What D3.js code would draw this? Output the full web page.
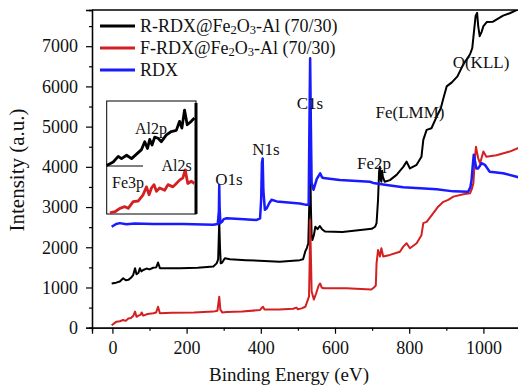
<!DOCTYPE html>
<html>
<head>
<meta charset="utf-8">
<script src="https://cdn.jsdelivr.net/npm/d3@7"></script>
<style>
  body { margin: 0; background: #fff; }
  svg { display: block; font-family: "Liberation Serif", "Times New Roman", serif; }
</style>
</head>
<body>
<svg id="chart" width="518" height="388"></svg>
<script>
// R-RDX@Fe2O3-Al (black)
const rEnergy = [-2, 10, 20, 29, 36, 43, 50, 56, 61, 65, 70, 74, 78, 83, 92, 100, 110, 118, 123, 128, 140, 182, 230, 272, 281, 285, 288, 290, 292, 296, 303, 317, 360, 451, 505, 514, 520, 524, 528, 531, 533, 535, 537, 539, 543, 547, 553, 559, 565, 573, 620, 699, 708, 712, 716, 719, 721, 723, 725, 727, 729, 734, 748, 766, 784, 793, 802, 820, 833, 838, 847, 860, 874, 885, 892, 901, 915, 930, 946, 964, 970, 975, 979, 983, 986, 990, 995, 1000, 1009, 1026, 1053, 1071, 1095];
const rIntensity = [1100, 1120, 1150, 1230, 1180, 1190, 1240, 1310, 1480, 1330, 1360, 1480, 1400, 1435, 1470, 1450, 1490, 1500, 1620, 1480, 1480, 1480, 1490, 1520, 1600, 1700, 2640, 2000, 1600, 1620, 1725, 1700, 1680, 1640, 1680, 1700, 1900, 1980, 2100, 3200, 4500, 3000, 2300, 2180, 2300, 2510, 2450, 2530, 2450, 2390, 2380, 2460, 2510, 2600, 3180, 3900, 4000, 3700, 3630, 3900, 3750, 3630, 3670, 3800, 4000, 4130, 3960, 4050, 4250, 4670, 4920, 4960, 5250, 5450, 5700, 6000, 6100, 6250, 6550, 6800, 6950, 7400, 7750, 7830, 7500, 7250, 7350, 7500, 7600, 7610, 7760, 7820, 7920];

// F-RDX@Fe2O3-Al (red)
const fEnergy = [-2, 11, 20, 29, 36, 43, 50, 56, 61, 65, 70, 76, 79, 83, 95, 110, 118, 123, 128, 160, 220, 272, 283, 288, 291, 296, 308, 350, 398, 403, 406, 410, 450, 487, 496, 500, 510, 520, 527, 530, 532, 533, 535, 537, 543, 549, 556, 560, 564, 569, 630, 698, 705, 710, 712, 716, 719, 721, 725, 730, 748, 775, 784, 793, 802, 820, 833, 838, 847, 865, 878, 892, 905, 919, 946, 964, 969, 973, 977, 980, 983, 986, 991, 996, 1000, 1008, 1035, 1071, 1095];
const fIntensity = [60, 150, 160, 190, 170, 230, 240, 290, 400, 270, 300, 320, 380, 300, 340, 360, 380, 520, 360, 370, 380, 400, 420, 770, 450, 380, 390, 400, 440, 500, 520, 450, 450, 470, 500, 460, 480, 520, 700, 780, 1800, 2680, 1800, 900, 700, 850, 1050, 1100, 1000, 980, 980, 950, 1000, 1050, 1600, 1930, 1850, 1770, 1975, 1770, 1810, 1890, 2015, 2100, 1975, 2100, 2300, 2600, 2630, 2850, 3010, 3130, 3180, 3260, 3320, 3340, 3450, 3590, 4200, 4500, 4350, 4210, 4090, 4250, 4380, 4250, 4290, 4380, 4470];

// RDX (blue)
const dEnergy = [-2, 10, 20, 38, 60, 110, 191, 272, 284, 287, 288, 289, 291, 296, 300, 308, 344, 389, 398, 401, 403, 405, 407, 411, 416, 423, 429, 443, 505, 520, 529, 531, 533, 535, 537, 542, 551, 560, 565, 569, 613, 694, 703, 739, 784, 829, 874, 919, 959, 965, 968, 971, 974, 977, 981, 986, 995, 1004, 1017, 1053, 1095];
const dIntensity = [2510, 2580, 2600, 2570, 2590, 2580, 2580, 2560, 2580, 2900, 3550, 3000, 2600, 2640, 2700, 2720, 2700, 2680, 2720, 3200, 4100, 4210, 3400, 2930, 2970, 3100, 3180, 3140, 3090, 3060, 3060, 5000, 6700, 5000, 3600, 3430, 3700, 3840, 3740, 3720, 3670, 3630, 3600, 3550, 3490, 3470, 3440, 3390, 3380, 3500, 3670, 4000, 4300, 4150, 3960, 3960, 4090, 4050, 3880, 3840, 3740];

// inset, low energy region (relative intensity)
const insetREnergy = [0, 11, 19.5, 25, 33.6, 42, 50.4, 58.8, 64.3, 68.9, 72.7, 76.6, 81.1, 86.7, 92.4, 100.8, 109.2, 117.6, 123.1, 127, 131.5, 136, 142.8, 148.3];
const insetRValue = [43, 46, 51, 49, 52, 49, 53, 57, 64, 58, 66, 61, 68, 67, 64, 70, 73, 74, 82, 76, 92, 79, 82, 85];
const insetFEnergy = [5.5, 14, 22.3, 30.7, 36.3, 44.7, 53.1, 61.5, 67.2, 71.6, 75.6, 80, 84, 89.5, 97.9, 103.5, 111.9, 117.6, 123.1, 128.7, 132.6, 137, 142.8, 148.3];
const insetFValue = [1, 2, 5, 6.5, 5, 11, 11.5, 17, 24, 17, 23, 26, 20, 23, 21, 26, 24, 27, 30, 32, 39, 27, 29, 27];

const legendLabels = ["R-RDX@Fe|2|O|3|-Al (70/30)", "F-RDX@Fe|2|O|3|-Al (70/30)", "RDX"];
const colors = ["#000000", "#d42020", "#1a1aff"];

const peakLabels = [
  { t: "O1s", x: 229, y: 179 },
  { t: "N1s", x: 266, y: 149 },
  { t: "C1s", x: 310, y: 103 },
  { t: "Fe2p", x: 374, y: 163 },
  { t: "Fe(LMM)", x: 410, y: 112 },
  { t: "O(KLL)", x: 481, y: 62 }
];

const svg = d3.select("#chart");
const W = 518, H = 388;
const mLeft = 92, mTop = 10, mBottom = 327.7;

const x = d3.scaleLinear().domain([-55, 1100]).range([mLeft, 520.5]);
const y = d3.scaleLinear().domain([0, 7900]).range([mBottom, mTop]);

svg.append("clipPath").attr("id", "plotclip")
  .append("rect").attr("x", mLeft).attr("y", mTop).attr("width", W - mLeft).attr("height", mBottom - mTop);

// axes
const fmt = d3.format("d");
svg.append("g").attr("transform", `translate(${mLeft},0)`)
  .call(d3.axisLeft(y).tickValues(d3.range(0, 7001, 1000)).tickSize(6).tickPadding(8).tickFormat(fmt));
svg.append("g").attr("transform", `translate(${mLeft},0)`)
  .call(d3.axisLeft(y).tickValues(d3.range(500, 7900, 1000)).tickSize(3).tickFormat(""));
svg.append("g").attr("transform", `translate(0,${mBottom})`)
  .call(d3.axisBottom(x).tickValues(d3.range(0, 1001, 200)).tickSize(6).tickPadding(8).tickFormat(fmt));
svg.append("g").attr("transform", `translate(0,${mBottom})`)
  .call(d3.axisBottom(x).tickValues(d3.range(100, 1100, 200)).tickSize(3).tickFormat(""));

svg.selectAll(".domain").attr("stroke", "#000").attr("stroke-width", 1.3);
svg.selectAll(".tick line").attr("stroke", "#000").attr("stroke-width", 1.2);
svg.selectAll(".tick text").attr("fill", "#111").style("font-size", "18px")
  .style("font-family", "'Liberation Serif', 'Times New Roman', serif");

// top frame
svg.append("line").attr("x1", mLeft).attr("x2", W).attr("y1", mTop).attr("y2", mTop)
  .attr("stroke", "#000").attr("stroke-width", 1.3);

// axis titles
svg.append("text").attr("x", 289).attr("y", 381).attr("text-anchor", "middle")
  .style("font-size", "19px").attr("fill", "#111").text("Binding Energy (eV)");
svg.append("text").attr("transform", "translate(24,170) rotate(-90)").attr("text-anchor", "middle")
  .style("font-size", "21px").attr("fill", "#111").text("Intensity (a.u.)");

// spectra
const series = [
  { e: rEnergy, v: rIntensity, w: 2 },
  { e: fEnergy, v: fIntensity, w: 2 },
  { e: dEnergy, v: dIntensity, w: 2.5 }
];
const line = d3.line().x(d => x(d[0])).y(d => y(d[1]));
const plot = svg.append("g").attr("clip-path", "url(#plotclip)");
series.forEach((s, i) => {
  plot.append("path")
    .datum(d3.zip(s.e, s.v))
    .attr("d", line)
    .attr("fill", "none")
    .attr("stroke", colors[i])
    .attr("stroke-width", s.w)
    .attr("stroke-linejoin", "round");
});

// peak labels
svg.selectAll(".peak").data(peakLabels).enter().append("text")
  .attr("class", "peak")
  .attr("x", d => d.x).attr("y", d => d.y)
  .attr("dy", "0.35em")
  .attr("text-anchor", "middle")
  .style("font-size", "17px").attr("fill", "#111")
  .text(d => d.t);

// legend
const lg = svg.append("g");
legendLabels.forEach((lab, i) => {
  const ly = 26 + i * 22;
  lg.append("line").attr("x1", 100).attr("x2", 135).attr("y1", ly).attr("y2", ly)
    .attr("stroke", colors[i]).attr("stroke-width", 3);
  const t = lg.append("text").attr("x", 140).attr("y", ly + 6).style("font-size", "18px").attr("fill", "#111");
  lab.split("|").forEach((part, k) => {
    if (k % 2 === 1) {
      t.append("tspan").attr("dy", 2).style("font-size", "12.5px").text(part);
    } else {
      t.append("tspan").attr("dy", k === 0 ? 0 : -2).text(part);
    }
  });
});

// inset
const ix = d3.scaleLinear().domain([0, 150]).range([106.7, 195.5]);
const iy = d3.scaleLinear().domain([0, 100]).range([214, 101]);
const inset = svg.append("g");
inset.append("rect").attr("x", 106.7).attr("y", 101).attr("width", 89.3).attr("height", 113)
  .attr("fill", "#fff").attr("stroke", "#000").attr("stroke-width", 1);
inset.append("line").attr("x1", 196).attr("x2", 196).attr("y1", 103).attr("y2", 214)
  .attr("stroke", "#000").attr("stroke-width", 3);
inset.append("line").attr("x1", 106.7).attr("x2", 143).attr("y1", 166).attr("y2", 166)
  .attr("stroke", "#000").attr("stroke-width", 1);
const iline = d3.line().x(d => ix(d[0])).y(d => iy(d[1]));
inset.append("path").datum(d3.zip(insetREnergy, insetRValue)).attr("d", iline)
  .attr("fill", "none").attr("stroke", colors[0]).attr("stroke-width", 2.8).attr("stroke-linejoin", "round");
inset.append("path").datum(d3.zip(insetFEnergy, insetFValue)).attr("d", iline)
  .attr("fill", "none").attr("stroke", colors[1]).attr("stroke-width", 2.8).attr("stroke-linejoin", "round");
[["Al2p", 151, 128], ["Fe3p", 128, 182], ["Al2s", 176.5, 165]].forEach(d => {
  inset.append("text").attr("x", d[1]).attr("y", d[2]).attr("dy", "0.35em")
    .attr("text-anchor", "middle").style("font-size", "16px").attr("fill", "#111").text(d[0]);
});
</script>
</body>
</html>
